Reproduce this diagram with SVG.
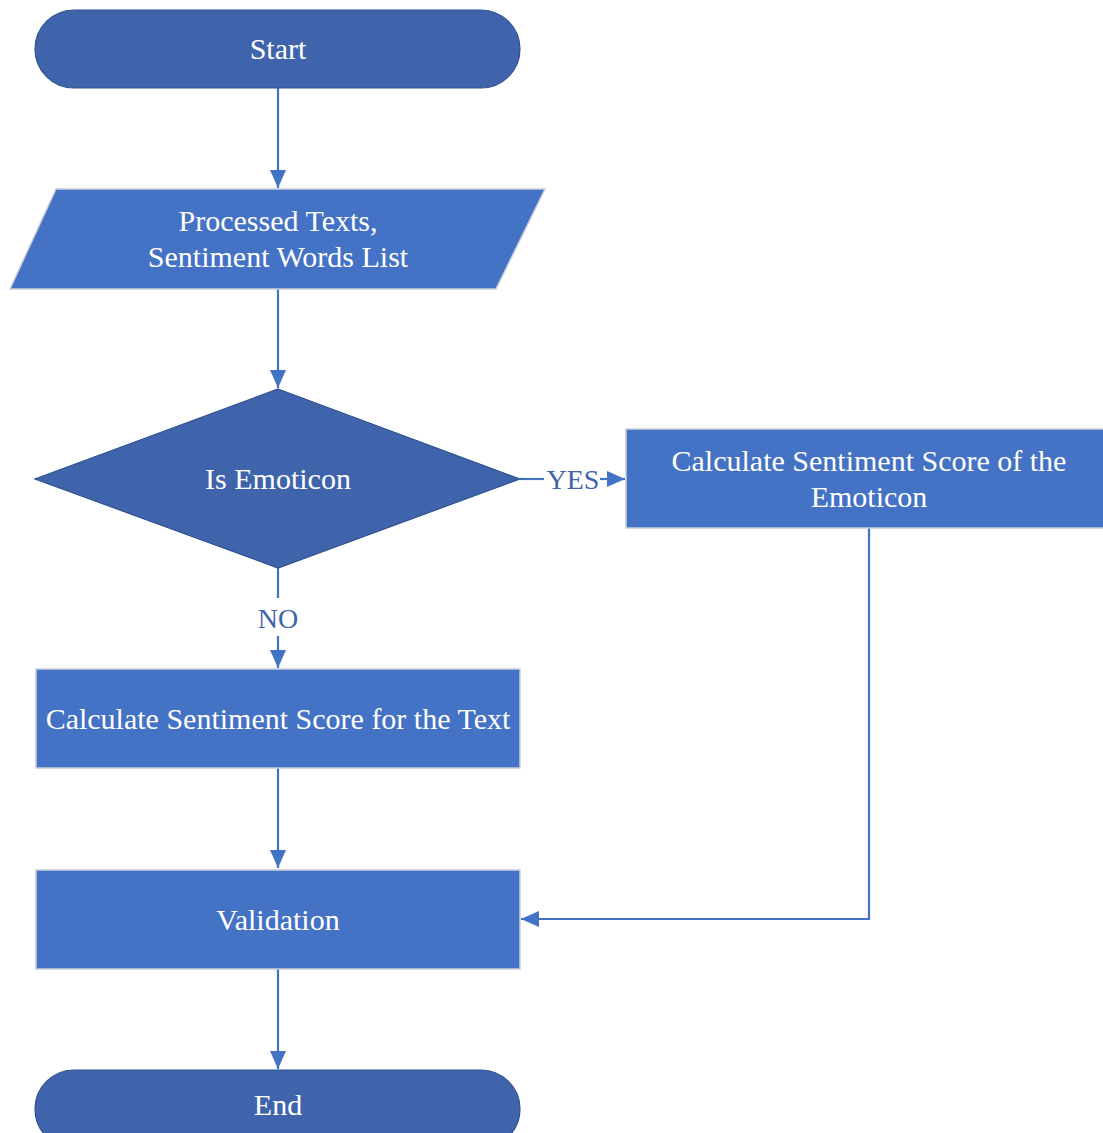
<svg xmlns="http://www.w3.org/2000/svg" width="1103" height="1133" viewBox="0 0 1103 1133">
  <style>
    .term { fill: #3F64AC; stroke: #2F528F; stroke-width: 1.2; }
    .proc { fill: #4472C4; stroke: #C9CFD9; stroke-width: 1.5; }
    .dec { fill: #3F64AC; stroke: #2F528F; stroke-width: 1.2; }
    text { font-family: 'Liberation Serif', Tinos, 'Times New Roman', 'DejaVu Serif', serif; }
    .lbl { font-size: 30px; fill: #FFFFFF; text-anchor: middle; }
    .elbl { font-size: 28px; fill: #3F64AC; text-anchor: middle; }
    .conn { fill: none; stroke: #4472C4; stroke-width: 2.2; }
  </style>
  <defs>
    <marker id="arrow" markerUnits="userSpaceOnUse" markerWidth="18" markerHeight="16" viewBox="0 0 18 16" refX="18" refY="8" orient="auto">
      <path d="M0,0 L18,8 L0,16 Z" fill="#4472C4"/>
    </marker>
  </defs>

  <rect width="1103" height="1133" fill="#FFFFFF"/>

  <!-- connectors -->
  <g id="connectors">
    <line class="conn" x1="278" y1="88" x2="278" y2="188" marker-end="url(#arrow)"/>
    <line class="conn" x1="278" y1="289" x2="278" y2="388" marker-end="url(#arrow)"/>
    <line class="conn" x1="520" y1="479" x2="544" y2="479"/>
    <line class="conn" x1="600" y1="479" x2="625" y2="479" marker-end="url(#arrow)"/>
    <text class="elbl" x="573" y="489">YES</text>
    <line class="conn" x1="278" y1="568" x2="278" y2="598"/>
    <line class="conn" x1="278" y1="636" x2="278" y2="668" marker-end="url(#arrow)"/>
    <text class="elbl" x="278" y="628">NO</text>
    <line class="conn" x1="278" y1="768" x2="278" y2="868" marker-end="url(#arrow)"/>
    <polyline class="conn" points="869,528 869,919 521,919" marker-end="url(#arrow)"/>
    <line class="conn" x1="278" y1="969" x2="278" y2="1069" marker-end="url(#arrow)"/>
  </g>

  <!-- nodes -->
  <g id="start">
    <rect class="term" x="35" y="10" width="485" height="78" rx="39" ry="39"/>
    <text class="lbl" x="278" y="59">Start</text>
  </g>

  <g id="input">
    <polygon class="proc" points="56,189 545,189 496,289 10,289"/>
    <text class="lbl" x="278" y="231">Processed Texts,</text>
    <text class="lbl" x="278" y="267">Sentiment Words List</text>
  </g>

  <g id="is-emoticon">
    <polygon class="dec" points="278,389 520,479 278,568 35,479"/>
    <text class="lbl" x="278" y="489">Is Emoticon</text>
  </g>

  <g id="score-emoticon">
    <rect class="proc" x="626" y="429" width="490" height="99"/>
    <text class="lbl" x="869" y="471">Calculate Sentiment Score of the</text>
    <text class="lbl" x="869" y="507">Emoticon</text>
  </g>

  <g id="score-text">
    <rect class="proc" x="36" y="669" width="484" height="99"/>
    <text class="lbl" x="278" y="729">Calculate Sentiment Score for the Text</text>
  </g>

  <g id="validation">
    <rect class="proc" x="36" y="870" width="484" height="99"/>
    <text class="lbl" x="278" y="930">Validation</text>
  </g>

  <g id="end">
    <rect class="term" x="35" y="1070" width="485" height="78" rx="39" ry="39"/>
    <text class="lbl" x="278" y="1115">End</text>
  </g>
</svg>
